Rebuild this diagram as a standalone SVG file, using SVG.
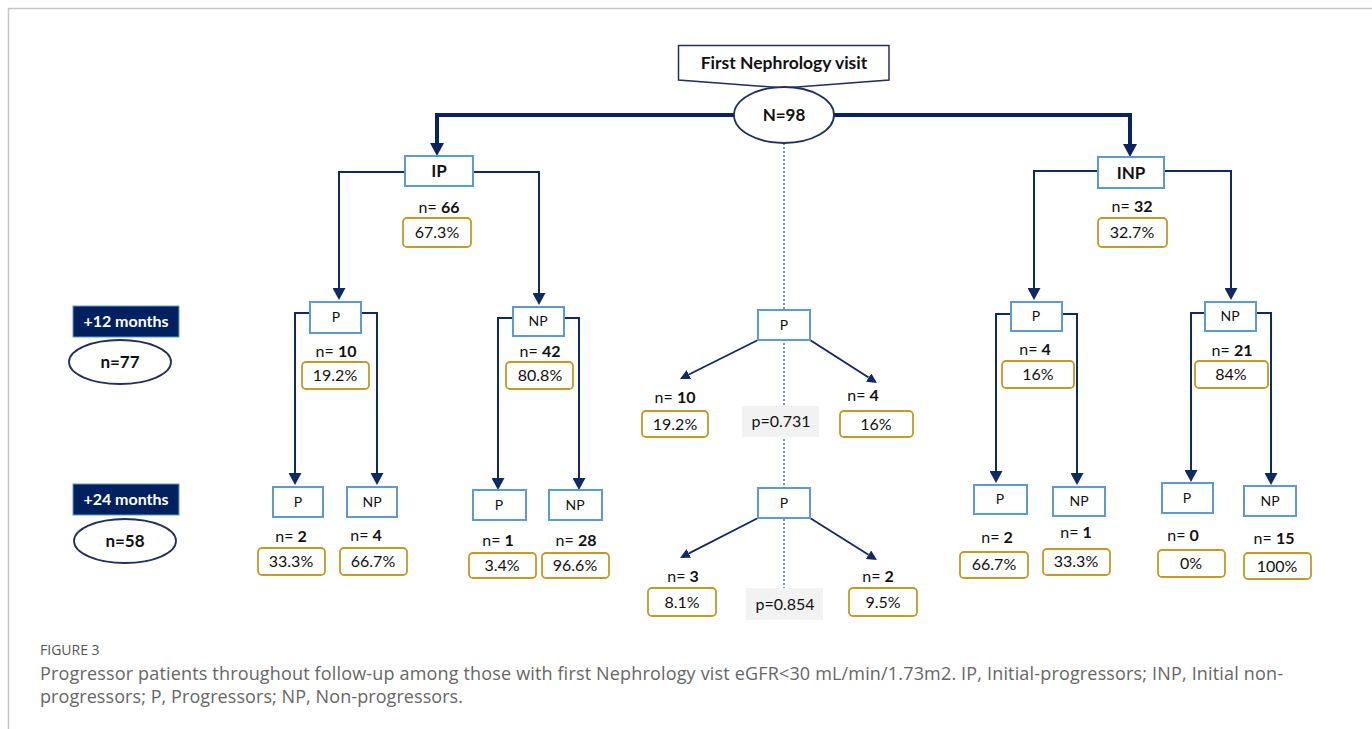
<svg xmlns="http://www.w3.org/2000/svg" width="1372" height="729" viewBox="0 0 1372 729">
<style>
text{font-family:Lato,"Liberation Sans",sans-serif;fill:#111;}
.nb{fill:#fff;stroke:#5b9bd5;stroke-width:2;}
.pc{fill:#fff;stroke:#c49a22;stroke-width:1.8;}
.lbl{font-size:14px;text-anchor:middle;}
.blab{font-size:17px;font-weight:bold;text-anchor:middle;}
.n{font-size:16px;text-anchor:middle;}
.n tspan{font-weight:bold;}
.pct{font-size:16px;text-anchor:middle;}
.thin{fill:none;stroke:#0e2a66;stroke-width:2;marker-end:url(#ah);}
.diag{fill:none;stroke:#0e2a66;stroke-width:1.8;marker-end:url(#as);}
.thick{fill:none;stroke:#0b2260;stroke-width:4;marker-end:url(#at);}
.cap{font-family:"Open Sans","Liberation Sans",sans-serif;fill:#666;}
</style>
<defs>
<marker id="at" viewBox="0 -7 13 14" refX="0" refY="0" markerWidth="13" markerHeight="14" markerUnits="userSpaceOnUse" orient="auto"><path d="M0,-7 L13,0 L0,7 z" fill="#0b2260"/></marker>
<marker id="ah" viewBox="0 -6.5 12 13" refX="0" refY="0" markerWidth="12" markerHeight="13" markerUnits="userSpaceOnUse" orient="auto"><path d="M0,-6.5 L12,0 L0,6.5 z" fill="#0e2a66"/></marker>
<marker id="as" viewBox="0 -5 10 10" refX="0" refY="0" markerWidth="10" markerHeight="10" markerUnits="userSpaceOnUse" orient="auto"><path d="M0,-5 L10,0 L0,5 z" fill="#0e2a66"/></marker>
</defs>
<rect width="1372" height="729" fill="#fff"/>
<path d="M8.5,729 V8.5 H1372" fill="none" stroke="#c4c4c4" stroke-width="1.5"/>

<g id="connectors">
<line x1="784" y1="143" x2="784" y2="620" stroke="#2f5597" stroke-width="1.3" stroke-dasharray="2,2"/>
<path class="thick" d="M734,115 H437 V143"/>
<path class="thick" d="M834,115 H1130 V144"/>
<path class="thin" d="M405,172 H339 V288"/>
<path class="thin" d="M473,172 H539 V293"/>
<path class="thin" d="M310,313 H295 V473"/>
<path class="thin" d="M361,313 H377 V473"/>
<path class="thin" d="M513,318 H498 V478"/>
<path class="thin" d="M564,318 H579 V478"/>
<path class="thin" d="M1098,171 H1034 V288"/>
<path class="thin" d="M1164,171 H1231 V288"/>
<path class="thin" d="M1011,314 H996 V471"/>
<path class="thin" d="M1062,314 H1077 V473"/>
<path class="thin" d="M1205,313 H1191 V470"/>
<path class="thin" d="M1256,313 H1271 V473"/>
<path class="diag" d="M758,340 L688.9,374.5"/>
<path class="diag" d="M810,340 L868.6,377.6"/>
<path class="diag" d="M758,518 L688.9,553.4"/>
<path class="diag" d="M810,518 L868.5,554.7"/>
</g>

<g id="first-visit">
<path d="M678.5,45.5 H889 V80 L784,88 L678.5,80 Z" fill="#fff" stroke="#1f2f5f" stroke-width="1.5"/>
<text x="784" y="69" style="font-size:17.5px;font-weight:bold;text-anchor:middle;">First Nephrology visit</text>
</g>
<g id="n98">
<ellipse cx="784" cy="115" rx="50" ry="28" fill="#fff" stroke="#1f2f5f" stroke-width="1.8"/>
<text x="784" y="121" style="font-size:17px;font-weight:bold;text-anchor:middle;">N=98</text>
</g>

<g id="m12">
<rect x="73" y="306" width="106" height="31" fill="#002060" stroke="#5b9bd5" stroke-width="1"/>
<text x="126" y="327" style="font-size:16px;font-weight:bold;text-anchor:middle;fill:#fff;">+12 months</text>
</g>
<g id="n77">
<ellipse cx="120" cy="362" rx="51" ry="22" fill="#fff" stroke="#1f2f5f" stroke-width="1.8"/>
<text x="120" y="368" style="font-size:17px;font-weight:bold;text-anchor:middle;">n=77</text>
</g>
<g id="m24">
<rect x="73" y="484" width="106" height="31" fill="#002060" stroke="#5b9bd5" stroke-width="1"/>
<text x="126" y="505" style="font-size:16px;font-weight:bold;text-anchor:middle;fill:#fff;">+24 months</text>
</g>
<g id="n58">
<ellipse cx="125" cy="541" rx="51" ry="22" fill="#fff" stroke="#1f2f5f" stroke-width="1.8"/>
<text x="125" y="547" style="font-size:17px;font-weight:bold;text-anchor:middle;">n=58</text>
</g>

<g id="ip">
<rect class="nb" x="405" y="156" width="68" height="30"/>
<text class="blab" x="439" y="177">IP</text>
<text class="n" x="439" y="213">n= <tspan>66</tspan></text>
<rect class="pc" x="403" y="218" width="68" height="29" rx="4"/>
<text class="pct" x="437" y="238">67.3%</text>
</g>
<g id="inp">
<rect class="nb" x="1098" y="157" width="66" height="31"/>
<text class="blab" x="1131" y="179">INP</text>
<text class="n" x="1132" y="212">n= <tspan>32</tspan></text>
<rect class="pc" x="1098" y="218" width="69" height="29" rx="4"/>
<text class="pct" x="1132" y="238">32.7%</text>
</g>

<g id="ip-p12">
<rect class="nb" x="310" y="302" width="51" height="31"/>
<text class="lbl" x="336" y="322">P</text>
<text class="n" x="336" y="357">n= <tspan>10</tspan></text>
<rect class="pc" x="302" y="362" width="67" height="27" rx="4"/>
<text class="pct" x="335" y="381">19.2%</text>
</g>
<g id="ip-np12">
<rect class="nb" x="513" y="307" width="51" height="29"/>
<text class="lbl" x="538" y="326">NP</text>
<text class="n" x="540" y="357">n= <tspan>42</tspan></text>
<rect class="pc" x="506" y="362" width="67" height="27" rx="4"/>
<text class="pct" x="540" y="381">80.8%</text>
</g>

<g id="ip-p-p24">
<rect class="nb" x="273" y="487" width="50" height="30"/>
<text class="lbl" x="298" y="507">P</text>
<text class="n" x="291" y="542">n= <tspan>2</tspan></text>
<rect class="pc" x="258" y="548" width="67" height="27" rx="4"/>
<text class="pct" x="291" y="567">33.3%</text>
</g>
<g id="ip-p-np24">
<rect class="nb" x="347" y="487" width="50" height="30"/>
<text class="lbl" x="372" y="507">NP</text>
<text class="n" x="366" y="541">n= <tspan>4</tspan></text>
<rect class="pc" x="340" y="548" width="67" height="27" rx="4"/>
<text class="pct" x="373" y="567">66.7%</text>
</g>
<g id="ip-np-p24">
<rect class="nb" x="473" y="490" width="53" height="30"/>
<text class="lbl" x="499" y="510">P</text>
<text class="n" x="498" y="546">n= <tspan>1</tspan></text>
<rect class="pc" x="469" y="553" width="67" height="25" rx="4"/>
<text class="pct" x="502" y="571">3.4%</text>
</g>
<g id="ip-np-np24">
<rect class="nb" x="549" y="490" width="53" height="30"/>
<text class="lbl" x="575" y="510">NP</text>
<text class="n" x="576" y="546">n= <tspan>28</tspan></text>
<rect class="pc" x="542" y="553" width="67" height="25" rx="4"/>
<text class="pct" x="575" y="571">96.6%</text>
</g>

<g id="c-p12">
<rect class="nb" x="758" y="310" width="52" height="30"/>
<text class="lbl" x="784" y="330">P</text>
<text class="n" x="675" y="403">n= <tspan>10</tspan></text>
<rect class="pc" x="642" y="411" width="66" height="26" rx="4"/>
<text class="pct" x="675" y="430">19.2%</text>
<rect x="742" y="406" width="77" height="31" fill="#f2f2f2"/>
<text class="pct" x="781" y="427">p=0.731</text>
<text class="n" x="863" y="401">n= <tspan>4</tspan></text>
<rect class="pc" x="840" y="411" width="73" height="26" rx="4"/>
<text class="pct" x="876" y="430">16%</text>
</g>
<g id="c-p24">
<rect class="nb" x="758" y="488" width="52" height="30"/>
<text class="lbl" x="784" y="508">P</text>
<text class="n" x="683" y="582">n= <tspan>3</tspan></text>
<rect class="pc" x="648" y="588" width="68" height="28" rx="4"/>
<text class="pct" x="682" y="608">8.1%</text>
<rect x="746" y="588" width="77" height="32" fill="#f2f2f2"/>
<text class="pct" x="785" y="610">p=0.854</text>
<text class="n" x="878" y="582">n= <tspan>2</tspan></text>
<rect class="pc" x="849" y="588" width="68" height="28" rx="4"/>
<text class="pct" x="883" y="608">9.5%</text>
</g>

<g id="inp-p12">
<rect class="nb" x="1011" y="302" width="51" height="29"/>
<text class="lbl" x="1036" y="321">P</text>
<text class="n" x="1035" y="355">n= <tspan>4</tspan></text>
<rect class="pc" x="1002" y="361" width="72" height="27" rx="4"/>
<text class="pct" x="1038" y="380">16%</text>
</g>
<g id="inp-np12">
<rect class="nb" x="1205" y="302" width="51" height="29"/>
<text class="lbl" x="1230" y="321">NP</text>
<text class="n" x="1232" y="356">n= <tspan>21</tspan></text>
<rect class="pc" x="1195" y="361" width="73" height="27" rx="4"/>
<text class="pct" x="1231" y="380">84%</text>
</g>

<g id="inp-p-p24">
<rect class="nb" x="974" y="485" width="53" height="29"/>
<text class="lbl" x="1000" y="504">P</text>
<text class="n" x="997" y="543">n= <tspan>2</tspan></text>
<rect class="pc" x="960" y="552" width="68" height="26" rx="4"/>
<text class="pct" x="994" y="570">66.7%</text>
</g>
<g id="inp-p-np24">
<rect class="nb" x="1053" y="487" width="52" height="29"/>
<text class="lbl" x="1079" y="506">NP</text>
<text class="n" x="1076" y="538">n= <tspan>1</tspan></text>
<rect class="pc" x="1043" y="549" width="67" height="26" rx="4"/>
<text class="pct" x="1076" y="567">33.3%</text>
</g>
<g id="inp-np-p24">
<rect class="nb" x="1162" y="483" width="51" height="30"/>
<text class="lbl" x="1187" y="503">P</text>
<text class="n" x="1183" y="541">n= <tspan>0</tspan></text>
<rect class="pc" x="1158" y="550" width="67" height="27" rx="4"/>
<text class="pct" x="1191" y="569">0%</text>
</g>
<g id="inp-np-np24">
<rect class="nb" x="1244" y="486" width="52" height="30"/>
<text class="lbl" x="1270" y="506">NP</text>
<text class="n" x="1274" y="544">n= <tspan>15</tspan></text>
<rect class="pc" x="1244" y="553" width="67" height="26" rx="4"/>
<text class="pct" x="1277" y="572">100%</text>
</g>

<g id="caption">
<text class="cap" x="40" y="655" style="font-size:14px;fill:#555;">FIGURE 3</text>
<text class="cap" x="40" y="680" style="font-size:18px;" textLength="1243" lengthAdjust="spacing">Progressor patients throughout follow-up among those with first Nephrology vist eGFR&lt;30 mL/min/1.73m2. IP, Initial-progressors; INP, Initial non-</text>
<text class="cap" x="40" y="703" style="font-size:18px;" textLength="423" lengthAdjust="spacing">progressors; P, Progressors; NP, Non-progressors.</text>
</g>
</svg>
